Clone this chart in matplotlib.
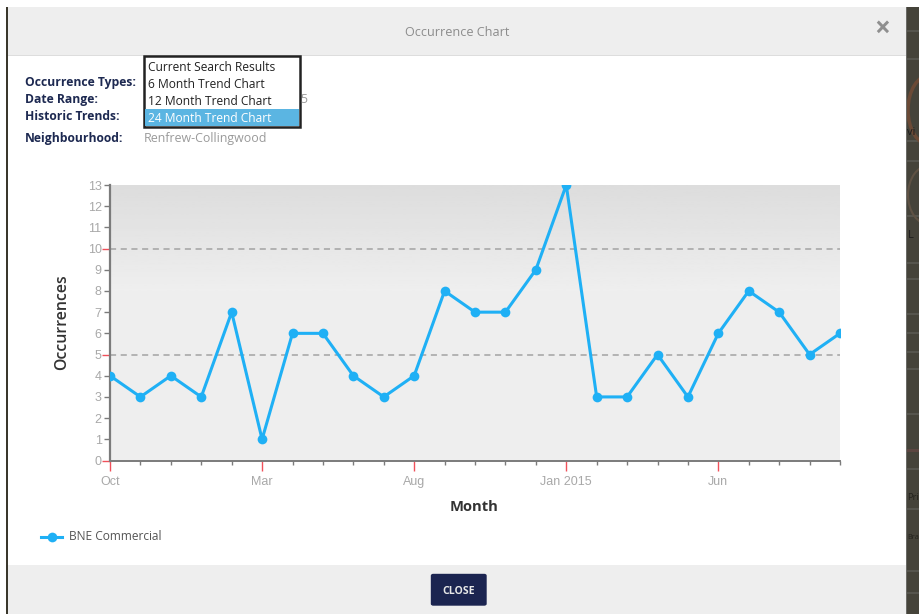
import numpy as np
import matplotlib
matplotlib.use("Agg")
import matplotlib.pyplot as plt
from matplotlib.patches import Rectangle, FancyBboxPatch, Ellipse
from matplotlib.lines import Line2D

months = ["Oct", "Nov", "Dec", "Jan", "Feb", "Mar", "Apr", "May", "Jun", "Jul", "Aug", "Sep",
          "Oct", "Nov", "Dec", "Jan 2015", "Feb", "Mar", "Apr", "May", "Jun", "Jul", "Aug", "Sep", "Oct"]
occurrences = [4, 3, 4, 3, 7, 1, 6, 6, 4, 3, 4, 8, 7, 7, 9, 13, 3, 3, 5, 3, 6, 8, 7, 5, 6]
y_ticks = list(range(0, 14))
y_major = [0, 5, 10]
x_major_step = 5
series_name = "BNE Commercial"
dropdown_items = ["Current Search Results", "6 Month Trend Chart", "12 Month Trend Chart", "24 Month Trend Chart"]
meta_labels = ["Occurrence Types:", "Date Range:", "Historic Trends:", "Neighbourhood:"]

W, H = 919, 614
fig = plt.figure(figsize=(W / 100, H / 100), dpi=100, facecolor="white")
plt.rcParams["font.family"] = ["Open Sans", "DejaVu Sans"]

def X(p): return p / W
def Y(p): return 1 - p / H
def box(x0, y0, x1, y1, **kw):
    kw.setdefault("linewidth", 0)
    fig.add_artist(Rectangle((X(x0), Y(y1)), (x1 - x0) / W, (y1 - y0) / H, transform=fig.transFigure, **kw))
def txt(x, y, s, **kw):
    kw.setdefault("va", "baseline")
    fig.text(X(x), Y(y), s, **kw)

# modal frame and dimmed page behind it
box(0, 7, 7, H, facecolor="#ffffff")
box(6, 7, 8, H, facecolor="#3a372c")
box(906, 7, W, H, facecolor="#45433a")
for yy in [30, 58, 140, 160, 215, 262, 278, 313, 332, 351, 368, 413, 468, 508, 570, 592]:
    box(906, yy, W, yy + 2, facecolor="#56554e")
fig.add_artist(Ellipse((X(930), Y(110)), 44 / W, 70 / H, transform=fig.transFigure,
                       facecolor="none", edgecolor="#6b4a36", linewidth=2.5))
fig.add_artist(Ellipse((X(930), Y(195)), 44 / W, 60 / H, transform=fig.transFigure,
                       facecolor="none", edgecolor="#5f5244", linewidth=1.5))
box(906, 449, W, 452, facecolor="#5c4641")
box(8, 7, 906, 55, facecolor="#eeeeee")
box(8, 55, 906, 56, facecolor="#dddddd")
box(8, 565, 906, H, facecolor="#eeeeee")
box(906, 7, 907, H, facecolor="#6a6a66")
txt(457.5, 36, "Occurrence Chart", ha="center", fontsize=9.1, color="#8c8c8c")
txt(882.5, 37, "\u00d7", ha="center", fontsize=20, color="#8f8f8f", fontweight="bold")
txt(907, 135, "vi", fontsize=8, color="#1c1c1c", ha="left")
txt(908, 238, "L", fontsize=8, color="#1c1c1c", ha="left")
txt(907, 500, "Pri", fontsize=6.8, color="#23221d", ha="left")
txt(907, 539, "Bra", fontsize=5.2, color="#23221d", ha="left")

# search summary
meta_y = [86, 103, 120, 142]
for lab, yy in zip(meta_labels, meta_y):
    txt(25, yy, lab, fontsize=8.7, fontweight="bold", color="#1d2951")
txt(144, 142, "Renfrew-Collingwood", fontsize=8.9, color="#9a9a9a")
txt(300.5, 103, "5", fontsize=8.85, color="#9a9a9a")

# dropdown
box(144, 56, 300, 127, facecolor="white", edgecolor="#222222", linewidth=1.8, zorder=3)
box(145, 109, 299, 126, facecolor="#5bb5e2", zorder=3.1)
for i, (s, yy) in enumerate(zip(dropdown_items, [71, 88, 105, 122])):
    txt(148, yy, s, fontsize=8.65, color="white" if i == 3 else "#222222", zorder=4)

# chart
ax = fig.add_axes([X(110), Y(460.5), 730 / W, (460.5 - 185) / H])
ax.set_facecolor("#eeeeee")
x = np.arange(len(occurrences))
shade = np.linspace(0.865, 0.935, 64).reshape(-1, 1)
ax.imshow(shade, cmap="gray", vmin=0, vmax=1, aspect="auto",
          extent=[x[0], x[-1], y_major[2] - 2, y_ticks[-1]], zorder=0, origin="upper")
ax.set_xlim(x[0], x[-1])
ax.set_ylim(y_ticks[0], y_ticks[-1])
for v in y_major[1:]:
    ax.axhline(v, color="#a3a3a3", lw=1.1, ls=(0, (4, 3)), zorder=1)
ax.plot(x, occurrences, color="#1fb0f5", lw=2.2, marker="o", ms=7, mew=0, zorder=3, clip_on=True)

for s in ("top", "right"):
    ax.spines[s].set_visible(False)
for s in ("left", "bottom"):
    ax.spines[s].set_color("#7b7b7b")
ax.spines["left"].set_linewidth(1.6)
ax.spines["bottom"].set_linewidth(1.4)

ax.set_yticks(y_ticks)
ax.set_yticklabels([str(v) for v in y_ticks], fontname="Liberation Sans", fontsize=9, color="#a8a8a8")
ax.tick_params(axis="y", length=4, width=1, color="#7b7b7b", pad=2)
xt = x
ax.set_xticks(xt)
ax.set_xticklabels([months[i] if i % x_major_step == 0 else "" for i in xt],
                   fontname="Liberation Sans", fontsize=9, color="#a8a8a8")
ax.tick_params(axis="x", length=3, width=1, color="#7b7b7b", pad=8)
for t, v in zip(ax.yaxis.get_major_ticks(), y_ticks):
    if v in y_major:
        t.tick1line.set_markeredgecolor("#f0505a")
        t.tick1line.set_markersize(6)
for t, i in zip(ax.xaxis.get_major_ticks(), xt):
    if i % x_major_step == 0:
        t.tick1line.set_markeredgecolor("#f0505a")
        t.tick1line.set_markersize(7)

txt(62.5, 322, "Occurrences", rotation=90, ha="center", va="center", fontsize=11.4, fontweight="semibold", color="#333333")
txt(474, 511, "Month", ha="center", fontsize=10.6, fontweight="bold", color="#333333")

# legend
fig.add_artist(Line2D([X(41), X(62)], [Y(537), Y(537)], color="#1fb0f5", lw=2.2, transform=fig.transFigure))
fig.add_artist(Line2D([X(51.5)], [Y(537)], color="#1fb0f5", marker="o", ms=7, mew=0, transform=fig.transFigure))
txt(69, 540, series_name, fontsize=8.65, color="#555555")

# close button
fig.add_artist(FancyBboxPatch((X(431.5), Y(605)), 54.5 / W, 30.5 / H, boxstyle="round,pad=0,rounding_size=0.002",
                              transform=fig.transFigure, facecolor="#1b2450", edgecolor="#1b2450", linewidth=1))
txt(459, 594, "CLOSE", ha="center", fontsize=7.6, fontweight="bold", color="#e8e8e8")

fig.savefig("out.png", dpi=100)
